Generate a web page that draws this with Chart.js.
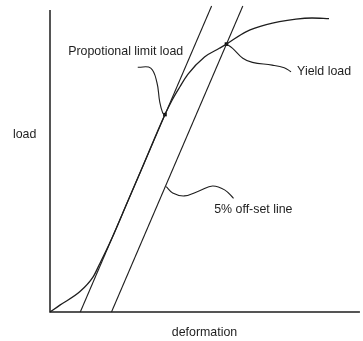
<!DOCTYPE html>
<html>
<head>
<meta charset="utf-8">
<script src="https://cdn.jsdelivr.net/npm/chart.js@4/dist/chart.umd.min.js"></script>
<style>
  html, body { margin: 0; padding: 0; background: #fff; }
  canvas { display: block; }
</style>
</head>
<body>
<canvas id="c" width="363" height="341"></canvas>
<script>
// Load–deformation curve (arbitrary units, 0..100 on both axes)
const curveX = [0, 3.2, 9.7, 14, 16.1, 20, 25, 30, 37.2, 39.5, 42, 44.6, 50, 54.8, 57.1, 63.4, 70, 79.6, 84.8, 90.3];
const curveY = [0, 2.3, 6.8, 11.8, 16.1, 24.5, 36.5, 48.5, 65.8, 70.6, 75, 79.2, 85, 87.9, 89.3, 93.4, 95.8, 97.6, 98.0, 97.8];

// Straight lines: initial tangent and the 5% off-set line (same slope)
const tangentX = [9.8, 52.3];
const tangentY = [0, 102];
const offsetX = [19.9, 62.4];
const offsetY = [0, 102];

// Marked loads
const markX = [37.2, 57.1];
const markY = [65.8, 89.3];

// Leader curves from the labels to the marks
const propLeaderX = [28.4, 32.6, 34.6, 35.5, 36.5, 37.2];
const propLeaderY = [81.6, 81.3, 76.5, 70.1, 66.3, 65.8];
const yieldLeaderX = [57.1, 59.1, 62.4, 65.5, 71.9, 75.8, 78];
const yieldLeaderY = [89.3, 87.9, 84.6, 83.2, 82.3, 81.4, 80.1];
const offsetLeaderX = [37.6, 39.7, 43.5, 48.4, 52.6, 56.5, 59.4];
const offsetLeaderY = [41.8, 39.7, 38.7, 40.4, 42, 40.7, 37.9];

// Axes frame
const axisX = [0, 0, 100.3];
const axisY = [100.7, 0, 0];

// Labels: text and anchor (data units)
const labelText = ['Propotional limit load', 'Yield load', '5% off-set line', 'load', 'deformation'];
const labelX = [24.5, 88.7, 65.8, -8.2, 50];
const labelY = [86.8, 80, 34.2, 59, -6.7];

const pts = (xs, ys) => xs.map((x, i) => ({ x: x, y: ys[i] }));
const INK = '#1e1e1e';

function lineSet(xs, ys, width, tension) {
  return {
    data: pts(xs, ys),
    showLine: true,
    borderColor: INK,
    borderWidth: width,
    pointRadius: 0,
    tension: tension,
    fill: false,
    clip: false
  };
}

const textLabels = {
  id: 'textLabels',
  afterDatasetsDraw(chart) {
    const { ctx, scales } = chart;
    ctx.save();
    ctx.fillStyle = INK;
    ctx.font = '12.4px "Liberation Sans", Arial, sans-serif';
    ctx.textAlign = 'center';
    ctx.textBaseline = 'middle';
    labelText.forEach((t, i) => {
      ctx.fillText(t, scales.x.getPixelForValue(labelX[i]), scales.y.getPixelForValue(labelY[i]));
    });
    ctx.restore();
  }
};

const curveSet = lineSet(curveX, curveY, 1.3, 0);
curveSet.cubicInterpolationMode = 'monotone';

new Chart(document.getElementById('c'), {
  type: 'scatter',
  data: {
    datasets: [
      lineSet(axisX, axisY, 1.5, 0),
      curveSet,
      lineSet(tangentX, tangentY, 1.1, 0),
      lineSet(offsetX, offsetY, 1.1, 0),
      lineSet(propLeaderX, propLeaderY, 1.1, 0.4),
      lineSet(yieldLeaderX, yieldLeaderY, 1.1, 0.4),
      lineSet(offsetLeaderX, offsetLeaderY, 1.1, 0.4),
      {
        data: pts(markX, markY),
        pointStyle: 'rect',
        pointRadius: 2.5,
        backgroundColor: '#000',
        borderColor: '#000',
        borderWidth: 0,
        clip: false
      }
    ]
  },
  options: {
    responsive: false,
    animation: false,
    events: [],
    layout: { padding: { left: 50, right: 3, top: 6, bottom: 29 } },
    scales: {
      x: { type: 'linear', min: 0, max: 100, display: false },
      y: { type: 'linear', min: 0, max: 102, display: false }
    },
    plugins: {
      legend: { display: false },
      tooltip: { enabled: false }
    }
  },
  plugins: [textLabels]
});
</script>
</body>
</html>
